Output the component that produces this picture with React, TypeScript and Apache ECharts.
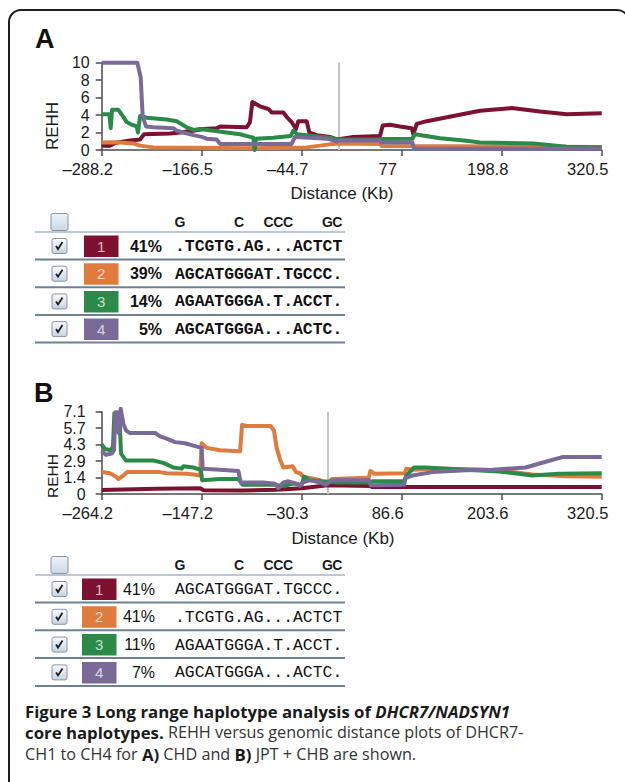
import React, { useEffect, useRef } from "react";
import * as echarts from "echarts";

// ---------- data ----------
const HAP_IDS = ["1", "2", "3", "4"];
const HAP_COLORS = ["#7d1131", "#e07b3e", "#2b8a48", "#7a6a98"];

const A_X_TICKS = ["–288.2", "–166.5", "–44.7", "77", "198.8", "320.5"];
const A_X_MIN = -288.2;
const A_X_MAX = 320.5;
const A_Y_TICKS = ["0", "2", "4", "6", "8", "10"];
const A_Y_MAX = 10;

const B_X_TICKS = ["–264.2", "–147.2", "–30.3", "86.6", "203.6", "320.5"];
const B_X_MIN = -264.2;
const B_X_MAX = 320.5;
const B_Y_TICKS = ["0", "1.4", "2.9", "4.3", "5.7", "7.1"];
const B_Y_MAX = 7.14;

const CORE_POSITION = 0;

const A_HAP1: [number, number][] = [
  [-288.2, 0.5], [-278, 0.5], [-272, 0.8], [-253.7, 1.1], [-241.5, 1.2], [-236.7, 1.8], [-205, 1.9],
  [-192.9, 2.0], [-176.6, 2.2], [-164.5, 2.4], [-148.2, 2.5], [-144.2, 2.7], [-111.7, 2.6], [-107.7, 3.2],
  [-104.8, 5.5], [-95.5, 5.0], [-85.3, 4.7], [-81.3, 4.3], [-67.1, 4.3], [-63.1, 3.8], [-57, 3.2],
  [-51.7, 2.4], [-48.9, 3.3], [-38.7, 3.3], [-35.4, 2.0], [-26.5, 1.7], [-10.3, 1.5], [-2, 1.2],
  [2, 1.25], [18.2, 1.5], [50.6, 1.6], [53.9, 2.8], [62.8, 2.9], [75, 2.7], [89.2, 2.5], [91.2, 1.8],
  [95.3, 3.0], [107.4, 3.3], [172.4, 4.5], [210.9, 4.8], [245.4, 4.4], [277.8, 4.1], [320.5, 4.2],
];
const A_HAP2: [number, number][] = [
  [-288.2, 0.85], [-270, 0.9], [-249.7, 0.75], [-241.5, 0.5], [-225.3, 0.3], [-184.7, 0.25],
  [-103.6, 0.2], [-38.7, 0.3], [-22.5, 0.5], [-6.2, 0.7], [0, 0.75], [50.6, 0.7], [53, 0.45], [320.5, 0.35],
];
const A_HAP3: [number, number][] = [
  [-288.2, 4.1], [-278.9, 4.1], [-277.2, 2.5], [-275.6, 4.6], [-267.9, 4.6], [-261.8, 3.8], [-257.8, 3.2],
  [-251.7, 2.9], [-245.6, 2.7], [-244, 2.0], [-241.5, 3.9], [-233.4, 3.7], [-209.1, 3.5], [-196.9, 3.3],
  [-184.7, 2.6], [-176.6, 2.3], [-168.5, 2.4], [-152.3, 2.2], [-136.1, 2.0], [-119.8, 1.8], [-107.7, 1.5],
  [-103.6, 1.4], [-102, 0], [-100.4, 1.3], [-79.3, 1.4], [-58.2, 1.6], [-55, 2.2], [-50.1, 1.8],
  [-30.6, 1.6], [-10.3, 1.4], [1.9, 1.2], [50.6, 1.2], [53, 1.25], [90, 1.3], [93.2, 1.8], [123.7, 1.35],
  [156.1, 1.05], [172.4, 0.85], [237.3, 0.75], [277.8, 0.38], [320.5, 0.3],
];
const A_HAP4: [number, number][] = [
  [-288.2, 10], [-244.8, 10], [-240.7, 8.3], [-238.3, 3.8], [-234.2, 2.7], [-225.3, 2.6], [-201, 2.5],
  [-196.9, 2.2], [-188.8, 2.0], [-176.6, 1.7], [-166.5, 1.5], [-160.4, 1.3], [-148.2, 1.2], [-144.2, 0.7],
  [-57, 0.7], [-52.9, 1.5], [-34.6, 1.4], [-14.3, 1.3], [-6.2, 1.1], [-2.1, 0.95], [2, 1.1], [50, 1.1],
  [52, 0.85], [90, 0.85], [92, 0.15], [320.5, 0.15],
];

const B_HAP1: [number, number][] = [
  [-264.2, 0.35], [-240, 0.4], [-200, 0.45], [-149, 0.5], [-145, 0.32], [-100, 0.3], [-60, 0.37],
  [-30, 0.5], [-10, 0.68], [0, 0.75], [50, 0.7], [52, 0.6], [320.5, 0.6],
];
const B_HAP2: [number, number][] = [
  [-264.2, 1.9], [-254.5, 1.8], [-247.4, 1.5], [-244.7, 1.3], [-238.9, 1.6], [-234.2, 1.9], [-196, 1.9],
  [-188.2, 1.8], [-164.8, 1.75], [-157, 1.7], [-149.2, 1.6], [-147.3, 4.4], [-141.4, 4.0], [-125.8, 3.8],
  [-102.4, 3.7], [-100.1, 6.0], [-94.6, 5.9], [-66.6, 5.9], [-62.7, 5.5], [-59.6, 4.0], [-55.7, 3.0],
  [-51.8, 2.3], [-40.8, 2.4], [-37, 1.9], [-32.3, 1.8], [-28.4, 1.5], [-20.6, 1.4], [-8.9, 1.2],
  [-2, 0.9], [5, 1.3], [48, 1.4], [50, 2.0], [55, 1.75], [90, 1.8], [92, 2.2], [100, 2.1], [130, 2.2],
  [170, 2.15], [200.5, 2.05], [239.4, 1.7], [280, 1.55], [320.5, 1.5],
];
const B_HAP3: [number, number][] = [
  [-264.2, 4.3], [-260.3, 3.9], [-253.7, 3.8], [-251, 4.1], [-249.4, 7.0], [-243.5, 6.9], [-241.6, 3.5],
  [-235.7, 2.9], [-203.8, 2.9], [-192.1, 2.7], [-180.4, 2.3], [-170.6, 2.2], [-168.7, 2.4], [-157, 2.3],
  [-148.1, 2.1], [-146.9, 1.2], [-125.8, 1.3], [-104.4, 1.3], [-99.3, 0.8], [-63.5, 0.8], [-51.8, 0.7],
  [-40.1, 0.9], [-30.3, 0.8], [-27.6, 1.5], [-20.6, 1.2], [10.6, 1.0], [50.4, 1.0], [52, 1.1], [89.4, 1.1],
  [92, 1.6], [101.1, 2.3], [114.7, 2.3], [161.5, 2.1], [200.5, 1.95], [239.4, 1.6], [270, 1.75], [320.5, 1.8],
];
const B_HAP4: [number, number][] = [
  [-264.2, 3.7], [-259.1, 3.4], [-252.5, 3.5], [-249.8, 3.8], [-248.2, 7.1], [-245.9, 7.1], [-244.3, 5.3],
  [-242, 7.4], [-238.9, 6.1], [-235.7, 5.5], [-231.1, 5.3], [-201.8, 5.3], [-196, 5.0], [-188.2, 4.8],
  [-178.4, 4.5], [-166.7, 4.4], [-157, 4.2], [-147.3, 4.0], [-146.1, 2.2], [-125.8, 2.1], [-104.4, 2.0],
  [-101.6, 1.0], [-75.1, 1.0], [-61.5, 0.9], [-57.6, 0.5], [-51.8, 1.0], [-45.9, 1.1], [-36.2, 0.9],
  [-32.3, 0.7], [-28.4, 1.0], [-20.6, 1.2], [-8.9, 1.0], [-2.2, 0.8], [5.6, 1.2], [48.4, 1.2], [50.4, 0.75],
  [89.4, 0.8], [91.3, 1.4], [99.1, 1.6], [122.5, 1.9], [161.5, 2.05], [192.7, 2.1], [231.6, 2.3],
  [255, 2.8], [274.5, 3.2], [320.5, 3.2],
];

const A_PCT = ["41%", "39%", "14%", "5%"];
const A_SEQ = [".TCGTG.AG...ACTCT", "AGCATGGGAT.TGCCC.", "AGAATGGGA.T.ACCT.", "AGCATGGGA...ACTC."];
const B_PCT = ["41%", "41%", "11%", "7%"];
const B_SEQ = ["AGCATGGGAT.TGCCC.", ".TCGTG.AG...ACTCT", "AGAATGGGA.T.ACCT.", "AGCATGGGA...ACTC."];
const SNP_HEADER = "G     C  CCC   GC";

const X_NAME = "Distance (Kb)";
const Y_NAME = "REHH";

// ---------- helpers ----------
const SANS = "'Liberation Sans', Arial, sans-serif";
const MONO = "'Liberation Mono', 'DejaVu Sans Mono', monospace";
const CAPTION = "'Open Sans', sans-serif";
const AXIS_COLOR = "#4a4a4a";

function checkbox(x: number, y: number, size: number, checked: boolean): any[] {
  const els: any[] = [
    {
      type: "rect",
      shape: { x, y, width: size, height: size, r: 2 },
      style: {
        fill: new echarts.graphic.LinearGradient(0, 0, 0, 1, [
          { offset: 0, color: checked ? "#fbfcfe" : "#eef3f8" },
          { offset: 1, color: checked ? "#c6d2df" : "#c9d7e6" },
        ]),
        stroke: "#8795a8",
        lineWidth: 1,
      },
    },
  ];
  if (checked) {
    els.push({
      type: "polyline",
      shape: { points: [[x + 4, y + 7.5], [x + 6, y + 10.5], [x + 10.5, y + 3.5]] },
      style: { stroke: "#1e1e1e", lineWidth: 1.8, fill: "none" },
    });
  }
  return els;
}

function table(
  headerY: number,
  row0: number,
  step: number,
  pct: string[],
  seq: string[],
  bold: boolean,
  pctRight: number,
  boxX: number
): any[] {
  const els: any[] = [];
  const left = 35;
  const right = 345;
  const seqX = 175;
  const charW = 9.84;
  els.push(...checkbox(51, headerY - 8.5, 17, false));
  SNP_HEADER.split("").forEach((ch, i) => {
    if (ch === " ") return;
    els.push({
      type: "text",
      x: seqX + i * charW + charW / 2,
      y: headerY,
      style: { text: ch, font: `bold 14px ${SANS}`, fill: "#1a1a1a", align: "center", verticalAlign: "middle" },
    });
  });
  els.push({
    type: "line",
    shape: { x1: left, y1: headerY + 10, x2: right, y2: headerY + 10 },
    style: { stroke: "#a9b5c2", lineWidth: 1.5 },
  });
  HAP_IDS.forEach((id, i) => {
    const cy = row0 + i * step;
    els.push(...checkbox(52, cy - 7.5, 15, true));
    els.push({
      type: "rect",
      shape: { x: boxX, y: cy - 10.5, width: 34.5, height: 21.5 },
      style: { fill: HAP_COLORS[i] },
    });
    els.push({
      type: "text",
      x: boxX + 17.25,
      y: cy,
      style: { text: id, font: `15px ${SANS}`, fill: "rgba(255,255,255,0.72)", align: "center", verticalAlign: "middle" },
    });
    els.push({
      type: "text",
      x: pctRight,
      y: cy,
      style: {
        text: pct[i],
        font: `${bold ? "bold " : ""}16px ${SANS}`,
        fill: "#111",
        align: "right",
        verticalAlign: "middle",
      },
    });
    els.push({
      type: "text",
      x: seqX,
      y: cy + 0.5,
      style: {
        text: seq[i],
        font: `${bold ? "bold " : ""}16.4px ${MONO}`,
        fill: "#111",
        align: "left",
        verticalAlign: "middle",
      },
    });
    els.push({
      type: "line",
      shape: { x1: left, y1: cy + 13.5, x2: right, y2: cy + 13.5 },
      style: { stroke: "#6f8093", lineWidth: 2 },
    });
  });
  return els;
}

function dataXAxis(grid: number, min: number, max: number) {
  return { type: "value", gridIndex: grid, position: "bottom", min, max, show: false };
}

function shownXAxis(grid: number, ticks: string[]) {
  return {
    type: "value",
    gridIndex: grid,
    position: "bottom",
    min: 0,
    max: ticks.length - 1,
    interval: 1,
    axisLine: { show: true, onZero: false, lineStyle: { color: AXIS_COLOR, width: 1.5 } },
    axisTick: { show: true, length: 6, lineStyle: { color: AXIS_COLOR, width: 1.5 } },
    splitLine: { show: false },
    axisLabel: {
      margin: 10,
      fontSize: 16.5,
      fontFamily: SANS,
      color: "#1a1a1a",
      padding: [0, 28, 0, 0],
      formatter: (v: number) => ticks[Math.round(v)] ?? "",
    },
  };
}

function yAxis(grid: number, max: number, ticks: string[], margin: number) {
  const interval = max / (ticks.length - 1);
  return {
    type: "value",
    gridIndex: grid,
    position: "left",
    min: 0,
    max,
    interval,
    axisLine: { show: true, onZero: false, lineStyle: { color: AXIS_COLOR, width: 1.5 } },
    axisTick: { show: true, length: 6, lineStyle: { color: AXIS_COLOR, width: 1.5 } },
    splitLine: { show: false },
    axisLabel: {
      margin,
      fontSize: 16,
      fontFamily: SANS,
      color: "#1a1a1a",
      formatter: (v: number) => ticks[Math.round(v / interval)] ?? "",
    },
  };
}

function lineSeries(data: [number, number][], i: number, xIdx: number, yIdx: number, withCore: boolean) {
  const s: any = {
    type: "line",
    xAxisIndex: xIdx,
    yAxisIndex: yIdx,
    data,
    showSymbol: false,
    symbol: "none",
    clip: false,
    z: 3 + i,
    lineStyle: { color: HAP_COLORS[i], width: 4, join: "round" },
    emphasis: { disabled: true },
  };
  if (withCore) {
    s.markLine = {
      silent: true,
      symbol: "none",
      label: { show: false },
      lineStyle: { color: "#c4c4c4", width: 2, type: "solid" },
      data: [{ xAxis: CORE_POSITION }],
      z: 1,
    };
  }
  return s;
}

export default function App() {
  const ref = useRef<HTMLDivElement>(null);

  useEffect(() => {
    if (!ref.current) return;
    const chart = echarts.init(ref.current, undefined, { renderer: "svg" });

    const aSeries = [A_HAP1, A_HAP2, A_HAP3, A_HAP4];
    const bSeries = [B_HAP1, B_HAP2, B_HAP3, B_HAP4];

    const graphic: any[] = [
      {
        type: "rect",
        shape: { x: 9, y: 10, width: 620, height: 900, r: 12 },
        style: { fill: "none", stroke: "#1e1e1e", lineWidth: 2 },
        z: 0,
      },
      { type: "text", x: 35, y: 39, style: { text: "A", font: `bold 27px ${SANS}`, fill: "#111", verticalAlign: "middle" } },
      { type: "text", x: 34, y: 393, style: { text: "B", font: `bold 27px ${SANS}`, fill: "#111", verticalAlign: "middle" } },
      {
        type: "text", x: 52, y: 126, rotation: Math.PI / 2,
        style: { text: Y_NAME, font: `17px ${SANS}`, fill: "#1a1a1a", align: "center", verticalAlign: "middle" },
      },
      {
        type: "text", x: 52, y: 476, rotation: Math.PI / 2,
        style: { text: Y_NAME, font: `15.5px ${SANS}`, fill: "#1a1a1a", align: "center", verticalAlign: "middle" },
      },
      {
        type: "text", x: 342, y: 193,
        style: { text: X_NAME, font: `17px ${SANS}`, fill: "#1a1a1a", align: "center", verticalAlign: "middle" },
      },
      {
        type: "text", x: 343, y: 538,
        style: { text: X_NAME, font: `17px ${SANS}`, fill: "#1a1a1a", align: "center", verticalAlign: "middle" },
      },
      ...table(222, 246, 27.7, A_PCT, A_SEQ, true, 162, 84),
      ...table(565, 589, 27.8, B_PCT, B_SEQ, false, 155, 82),
      {
        type: "text", x: 25, y: 711,
        style: {
          text: "{b|Figure 3 Long range haplotype analysis of }{bi|DHCR7/NADSYN1}",
          verticalAlign: "middle",
          rich: {
            b: { font: `bold 16.8px ${CAPTION}`, fill: "#1a1a1a" },
            bi: { font: `italic bold 16.8px ${CAPTION}`, fill: "#1a1a1a" },
          },
        },
      },
      {
        type: "text", x: 25, y: 732,
        style: {
          text: "{b|core haplotypes.}{r| REHH versus genomic distance plots of DHCR7-}",
          verticalAlign: "middle",
          rich: {
            b: { font: `bold 16.8px ${CAPTION}`, fill: "#1a1a1a" },
            r: { font: `16.2px ${CAPTION}`, fill: "#333" },
          },
        },
      },
      {
        type: "text", x: 25, y: 754,
        style: {
          text: "{r|CH1 to CH4 for }{b|A)}{r| CHD and }{b|B)}{r| JPT + CHB are shown.}",
          verticalAlign: "middle",
          rich: {
            b: { font: `bold 16.8px ${CAPTION}`, fill: "#1a1a1a" },
            r: { font: `16.2px ${CAPTION}`, fill: "#333" },
          },
        },
      },
    ];

    chart.setOption({
      animation: false,
      backgroundColor: "#ffffff",
      grid: [
        { left: 101.7, top: 62.7, width: 500, height: 87.3 },
        { left: 101.7, top: 411.7, width: 500, height: 82.3 },
      ],
      xAxis: [
        dataXAxis(0, A_X_MIN, A_X_MAX),
        shownXAxis(0, A_X_TICKS),
        dataXAxis(1, B_X_MIN, B_X_MAX),
        shownXAxis(1, B_X_TICKS),
      ],
      yAxis: [yAxis(0, A_Y_MAX, A_Y_TICKS, 12), yAxis(1, B_Y_MAX, B_Y_TICKS, 16)],
      series: [
        ...aSeries.map((d, i) => lineSeries(d, i, 0, 0, i === 0)),
        ...bSeries.map((d, i) => lineSeries(d, i, 2, 1, i === 0)),
      ],
      graphic,
    });

    return () => chart.dispose();
  }, []);

  return (
    <div
      ref={ref}
      style={{ position: "absolute", left: 0, top: 0, width: 625, height: 782, background: "#fff" }}
    />
  );
}
